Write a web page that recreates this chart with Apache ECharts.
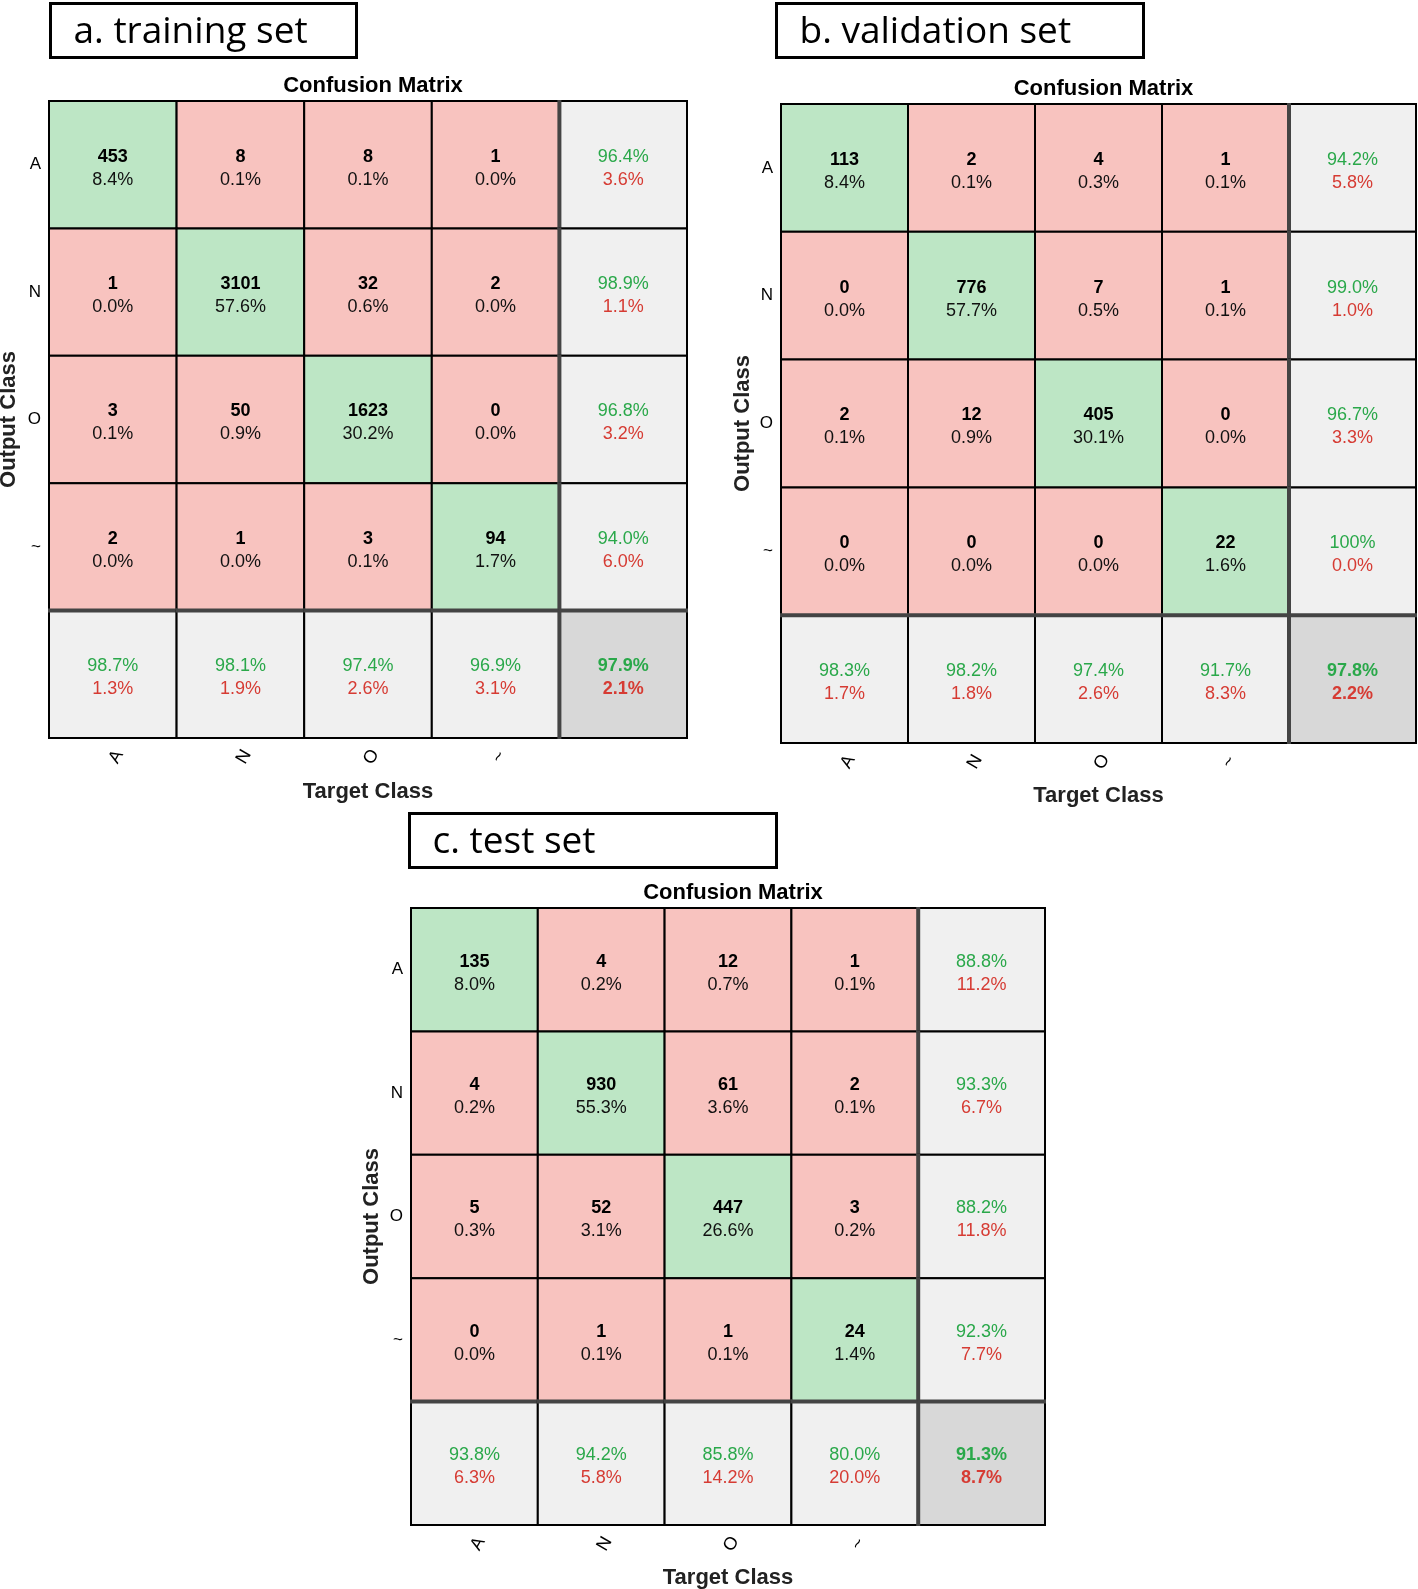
<!DOCTYPE html>
<html lang="en">
<head>
  <meta charset="UTF-8">
  <title>Confusion Matrix</title>
  <script src="https://cdn.jsdelivr.net/npm/echarts@6/dist/echarts.min.js"></script>
</head>
<body style="margin:0;padding:0;background:#fff;width:1418px;height:1589px;overflow:hidden;">
  <div id="main" style="width:1418px;height:1589px;"></div>
<script>
  var classes = ['A', 'N', 'O', '~', ''];

  // a. training set
  var trainCounts = [[453, 8, 8, 1], [1, 3101, 32, 2], [3, 50, 1623, 0], [2, 1, 3, 94]];
  var trainPct = [['8.4%', '0.1%', '0.1%', '0.0%'], ['0.0%', '57.6%', '0.6%', '0.0%'],
                  ['0.1%', '0.9%', '30.2%', '0.0%'], ['0.0%', '0.0%', '0.1%', '1.7%']];
  var trainRowOk = ['96.4%', '98.9%', '96.8%', '94.0%'];
  var trainRowErr = ['3.6%', '1.1%', '3.2%', '6.0%'];
  var trainColOk = ['98.7%', '98.1%', '97.4%', '96.9%'];
  var trainColErr = ['1.3%', '1.9%', '2.6%', '3.1%'];
  var trainTotal = ['97.9%', '2.1%'];

  // b. validation set
  var valCounts = [[113, 2, 4, 1], [0, 776, 7, 1], [2, 12, 405, 0], [0, 0, 0, 22]];
  var valPct = [['8.4%', '0.1%', '0.3%', '0.1%'], ['0.0%', '57.7%', '0.5%', '0.1%'],
                ['0.1%', '0.9%', '30.1%', '0.0%'], ['0.0%', '0.0%', '0.0%', '1.6%']];
  var valRowOk = ['94.2%', '99.0%', '96.7%', '100%'];
  var valRowErr = ['5.8%', '1.0%', '3.3%', '0.0%'];
  var valColOk = ['98.3%', '98.2%', '97.4%', '91.7%'];
  var valColErr = ['1.7%', '1.8%', '2.6%', '8.3%'];
  var valTotal = ['97.8%', '2.2%'];

  // c. test set
  var testCounts = [[135, 4, 12, 1], [4, 930, 61, 2], [5, 52, 447, 3], [0, 1, 1, 24]];
  var testPct = [['8.0%', '0.2%', '0.7%', '0.1%'], ['0.2%', '55.3%', '3.6%', '0.1%'],
                 ['0.3%', '3.1%', '26.6%', '0.2%'], ['0.0%', '0.1%', '0.1%', '1.4%']];
  var testRowOk = ['88.8%', '93.3%', '88.2%', '92.3%'];
  var testRowErr = ['11.2%', '6.7%', '11.8%', '7.7%'];
  var testColOk = ['93.8%', '94.2%', '85.8%', '80.0%'];
  var testColErr = ['6.3%', '5.8%', '14.2%', '20.0%'];
  var testTotal = ['91.3%', '8.7%'];

  var GREEN_BG = '#bde6c5', RED_BG = '#f8c3bf', GRAY_BG = '#f0f0f0', DARK_BG = '#d8d8d8';
  var GREEN_TX = '#2aa84a', RED_TX = '#d63b33';
  var FONT = '"Liberation Sans", Arial, sans-serif';

  // build cell list: [x, y] plus texts/colors kept alongside
  function buildCells(counts, pct, rowOk, rowErr, colOk, colErr, total) {
    var cells = [];
    for (var r = 0; r < 4; r++) {
      for (var c = 0; c < 4; c++) {
        cells.push({ x: c, y: r, bg: r === c ? GREEN_BG : RED_BG,
          t1: String(counts[r][c]), t2: pct[r][c], c1: '#000', c2: '#111', b1: true, b2: false });
      }
    }
    for (var r2 = 0; r2 < 4; r2++) {
      cells.push({ x: 4, y: r2, bg: GRAY_BG, t1: rowOk[r2], t2: rowErr[r2],
        c1: GREEN_TX, c2: RED_TX, b1: false, b2: false });
    }
    for (var c2 = 0; c2 < 4; c2++) {
      cells.push({ x: c2, y: 4, bg: GRAY_BG, t1: colOk[c2], t2: colErr[c2],
        c1: GREEN_TX, c2: RED_TX, b1: false, b2: false });
    }
    cells.push({ x: 4, y: 4, bg: DARK_BG, t1: total[0], t2: total[1],
      c1: GREEN_TX, c2: RED_TX, b1: true, b2: true });
    return cells;
  }

  var panels = [
    { cells: buildCells(trainCounts, trainPct, trainRowOk, trainRowErr, trainColOk, trainColErr, trainTotal),
      grid: { left: 49, top: 101, width: 638, height: 637 }, yGap: 29, xGap: 43 },
    { cells: buildCells(valCounts, valPct, valRowOk, valRowErr, valColOk, valColErr, valTotal),
      grid: { left: 781, top: 104, width: 635, height: 639 }, yGap: 27, xGap: 42 },
    { cells: buildCells(testCounts, testPct, testRowOk, testRowErr, testColOk, testColErr, testTotal),
      grid: { left: 411, top: 908, width: 634, height: 617 }, yGap: 28, xGap: 42 }
  ];

  function makeRender(cells) {
    return function (params, api) {
      var cell = cells[params.dataIndex];
      var center = api.coord([api.value(0), api.value(1)]);
      var size = api.size([1, 1]);
      var w = size[0], h = size[1];
      var x0 = center[0] - w / 2, y0 = center[1] - h / 2;
      var children = [{
        type: 'rect',
        shape: { x: x0, y: y0, width: w, height: h },
        style: { fill: cell.bg, stroke: '#000', lineWidth: 2 }
      }, {
        type: 'text',
        x: center[0], y: center[1] - 8,
        style: { text: cell.t1, fill: cell.c1, font: (cell.b1 ? 'bold ' : '') + '18px ' + FONT,
          align: 'center', verticalAlign: 'middle' }
      }, {
        type: 'text',
        x: center[0], y: center[1] + 15,
        style: { text: cell.t2, fill: cell.c2, font: (cell.b2 ? 'bold ' : '') + '18px ' + FONT,
          align: 'center', verticalAlign: 'middle' }
      }];
      // thick separator before the summary row / column
      if (cell.x === 4) {
        children.push({ type: 'line', shape: { x1: x0, y1: y0 - 1, x2: x0, y2: y0 + h + 1 },
          style: { stroke: '#444', lineWidth: 4 } });
      }
      if (cell.y === 4) {
        children.push({ type: 'line', shape: { x1: x0 - 1, y1: y0, x2: x0 + w + 1, y2: y0 },
          style: { stroke: '#444', lineWidth: 4 } });
      }
      return { type: 'group', children: children };
    };
  }

  var grids = [], xAxes = [], yAxes = [], series = [], titles = [];
  panels.forEach(function (p, i) {
    grids.push(Object.assign({ outerBoundsMode: 'none', containLabel: false }, p.grid));
    xAxes.push({
      type: 'category', gridIndex: i, data: classes,
      axisLine: { show: false }, axisTick: { show: false }, splitLine: { show: false },
      axisLabel: { rotate: 60, fontSize: 18, color: '#000', margin: 25, fontFamily: FONT,
        align: 'center', verticalAlign: 'middle', padding: [0, 0, 0, 14] },
      name: 'Target Class', nameLocation: 'middle', nameGap: p.xGap,
      nameTextStyle: { fontSize: 22, fontWeight: 'bold', color: '#222', fontFamily: FONT }
    });
    yAxes.push({
      type: 'category', gridIndex: i, data: classes, inverse: true,
      axisLine: { show: false }, axisTick: { show: false }, splitLine: { show: false },
      axisLabel: { fontSize: 17, color: '#000', margin: 8, fontFamily: FONT },
      name: 'Output Class', nameLocation: 'middle', nameGap: p.yGap,
      nameTextStyle: { fontSize: 22, fontWeight: 'bold', color: '#222', fontFamily: FONT }
    });
    series.push({
      type: 'custom', xAxisIndex: i, yAxisIndex: i,
      renderItem: makeRender(p.cells),
      data: p.cells.map(function (c) { return [c.x, c.y]; }),
      silent: true
    });
    titles.push({
      text: 'Confusion Matrix',
      left: p.grid.left + p.grid.width / 2, top: p.grid.top - 31, textAlign: 'center',
      textStyle: { fontSize: 22, fontWeight: 'bold', color: '#000', fontFamily: FONT }
    });
  });

  var labelBoxes = [
    { text: 'a. training set', x: 49, y: 2, w: 306, h: 54 },
    { text: 'b. validation set', x: 775, y: 2, w: 367, h: 54 },
    { text: 'c. test set', x: 408, y: 812, w: 367, h: 54 }
  ];
  var graphics = labelBoxes.map(function (b) {
    return {
      type: 'group', left: b.x, top: b.y,
      children: [{
        type: 'rect', shape: { x: 0, y: 0, width: b.w, height: b.h },
        style: { fill: '#fff', stroke: '#000', lineWidth: 3 }
      }, {
        type: 'text', x: 23, y: b.h / 2 + 2,
        style: { text: b.text, fill: '#000', font: '37px "Open Sans", Lato, sans-serif',
          verticalAlign: 'middle' }
      }]
    };
  });

  var myChart = echarts.init(document.getElementById('main'));
  myChart.setOption({
    backgroundColor: '#fff',
    animation: false,
    title: titles,
    grid: grids,
    xAxis: xAxes,
    yAxis: yAxes,
    series: series,
    graphic: graphics
  });
</script>
</body>
</html>
